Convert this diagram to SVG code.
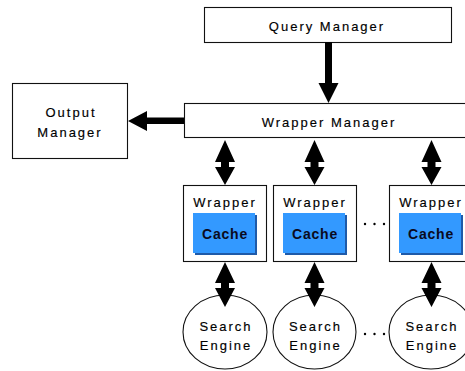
<svg xmlns="http://www.w3.org/2000/svg" width="465" height="371" viewBox="0 0 465 371">
<style>
.box{fill:#fff;stroke:#111;stroke-width:1.1}
.ell{fill:#fff;stroke:#111;stroke-width:1.1}
.lbl{font-family:"Liberation Sans",Arial,sans-serif;font-size:13px;letter-spacing:2px;fill:#000;stroke:#000;stroke-width:0.15;text-anchor:middle}
.cache{font-family:"Liberation Sans",Arial,sans-serif;font-size:14px;font-weight:bold;letter-spacing:0.8px;fill:#0a0a20;text-anchor:middle}
.cfill{fill:#3399ff}
.cshadow{fill:#1f5aa8}
.arr{fill:#000}
.dot{fill:#000}
</style>
<rect width="465" height="371" fill="#fff"/>
<g id="query-manager">
<rect class="box" x="204.5" y="7.5" width="247" height="35"/>
<text class="lbl" x="327" y="30.5">Query Manager</text>
</g>
<g id="wrapper-manager">
<rect class="box" x="184.5" y="103.5" width="290" height="34"/>
<text class="lbl" x="329" y="126.5">Wrapper Manager</text>
</g>
<g id="output-manager">
<rect class="box" x="12.5" y="83.5" width="115" height="75"/>
<text class="lbl" x="71" y="117">Output</text>
<text class="lbl" x="70" y="137">Manager</text>
</g>
<g id="wrapper-1">
<rect class="box" x="183.5" y="185.5" width="83" height="76"/>
<text class="lbl" x="225" y="207">Wrapper</text>
<rect class="cshadow" x="195" y="215" width="62" height="40"/>
<rect class="cfill" x="193" y="213" width="62" height="40"/>
<text class="cache" x="225" y="239">Cache</text>
</g>
<g id="wrapper-2">
<rect class="box" x="273.5" y="185.5" width="83" height="76"/>
<text class="lbl" x="315" y="207">Wrapper</text>
<rect class="cshadow" x="285" y="215" width="62" height="40"/>
<rect class="cfill" x="283" y="213" width="62" height="40"/>
<text class="cache" x="315" y="239">Cache</text>
</g>
<g id="wrapper-3">
<rect class="box" x="389.5" y="185.5" width="83" height="76"/>
<text class="lbl" x="431" y="207">Wrapper</text>
<rect class="cshadow" x="401" y="215" width="62" height="40"/>
<rect class="cfill" x="399" y="213" width="62" height="40"/>
<text class="cache" x="431" y="239">Cache</text>
</g>
<g id="search-engine-1">
<ellipse class="ell" cx="225" cy="332" rx="42" ry="37"/>
<text class="lbl" x="226" y="331">Search</text>
<text class="lbl" x="226" y="350">Engine</text>
</g>
<g id="search-engine-2">
<ellipse class="ell" cx="314.5" cy="332" rx="41.5" ry="37"/>
<text class="lbl" x="315.5" y="331">Search</text>
<text class="lbl" x="315.5" y="350">Engine</text>
</g>
<g id="search-engine-3">
<ellipse class="ell" cx="431" cy="332" rx="42" ry="37"/>
<text class="lbl" x="432" y="331">Search</text>
<text class="lbl" x="432" y="350">Engine</text>
</g>
<g id="ellipsis">
<circle class="dot" cx="365" cy="224" r="1.2"/>
<circle class="dot" cx="374.5" cy="224" r="1.2"/>
<circle class="dot" cx="384" cy="224" r="1.2"/>
<circle class="dot" cx="365" cy="334" r="1.2"/>
<circle class="dot" cx="374.5" cy="334" r="1.2"/>
<circle class="dot" cx="384" cy="334" r="1.2"/>
</g>
<g id="connectors">
<path class="arr" d="M325,42 H332 V83 H338.5 L328.5,103 L318.5,83 H325 Z"/>
<path class="arr" d="M184,117.5 V124 H147 V131 L128,121 L147,111 V117.5 Z"/>
<path class="arr" d="M225,140 L235,162 H229 V167 H235 L225,185 L215,167 H221 V162 H215 Z"/>
<path class="arr" d="M314.5,140 L324.5,162 H318.5 V167 H324.5 L314.5,185 L304.5,167 H310.5 V162 H304.5 Z"/>
<path class="arr" d="M431.5,140 L441.5,162 H435.5 V167 H441.5 L431.5,185 L421.5,167 H427.5 V162 H421.5 Z"/>
<path class="arr" d="M225,262 L235,283 H229 V288 H235 L225,307 L215,288 H221 V283 H215 Z"/>
<path class="arr" d="M314.5,262 L324.5,283 H318.5 V288 H324.5 L314.5,307 L304.5,288 H310.5 V283 H304.5 Z"/>
<path class="arr" d="M431.5,262 L441.5,283 H435.5 V288 H441.5 L431.5,307 L421.5,288 H427.5 V283 H421.5 Z"/>
</g>
</svg>
